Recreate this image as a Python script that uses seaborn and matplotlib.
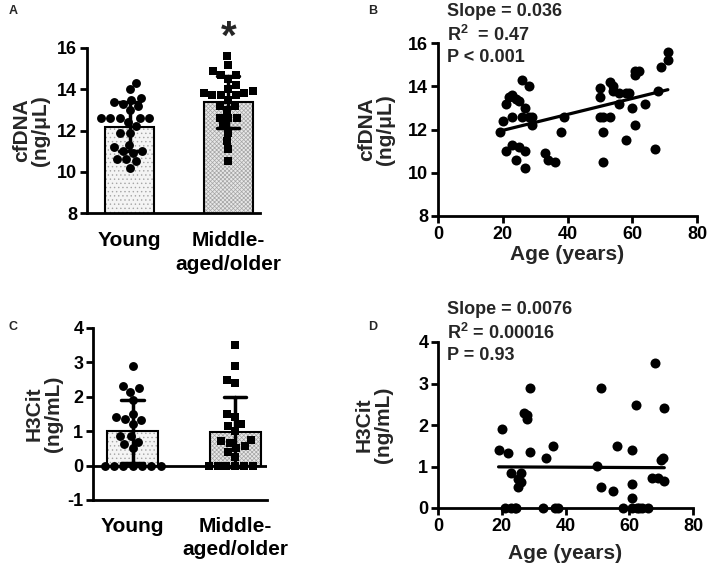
import numpy as np
import pandas as pd
import matplotlib
matplotlib.use("Agg")
import matplotlib.pyplot as plt
from matplotlib.patches import Rectangle
import seaborn as sns

# ---------------- data ----------------
groups = ["Young", "Middle-\naged/older"]

# cfDNA (ng/uL) vs age
cf_age_young = [19, 20, 21, 21, 22, 23, 23, 23, 24, 25, 24, 25, 26, 26, 27, 27, 27, 28, 28, 29, 29, 33, 34, 36, 38, 39]
cf_val_young = [11.9, 12.4, 13.2, 11.0, 13.5, 13.6, 12.6, 11.3, 13.4, 13.3, 10.6, 11.2, 14.3, 12.6, 13.0, 11.0,
                10.2, 14.0, 12.6, 12.6, 12.2, 10.9, 10.6, 10.5, 11.9, 12.6]
cf_age_old = [50, 50, 50, 51, 51, 51, 53, 53, 54, 54, 56, 56, 58, 58, 59, 60, 61, 61, 61, 62, 64, 67, 68, 69, 71, 71]
cf_val_old = [13.9, 13.5, 12.6, 12.6, 11.9, 10.5, 12.6, 14.2, 14.0, 13.8, 13.7, 13.2, 11.5, 13.7, 13.7, 13.0,
              12.2, 14.5, 14.7, 14.7, 13.2, 11.1, 13.8, 14.9, 15.2, 15.6]

# H3Cit (ng/mL) vs age
h3_age_young = [19, 20, 22, 23, 26, 26, 25, 25, 27, 28, 28, 29, 29, 34, 36, 21, 23, 24, 24.5, 33, 36.7, 37.7]
h3_val_young = [1.4, 1.9, 1.33, 0.85, 0.85, 0.63, 0.7, 0.5, 2.3, 2.25, 2.15, 2.9, 1.35, 1.2, 1.5, 0, 0, 0, 0, 0, 0, 0]
h3_age_old = [50, 51, 51, 55, 56, 61, 61, 61, 62, 68, 67, 69, 71, 70, 70.7, 71, 58, 61, 62.4, 63, 64, 66]
h3_val_old = [1.02, 2.9, 0.5, 0.4, 1.5, 1.4, 0.57, 0.25, 2.48, 3.5, 0.73, 0.72, 0.66, 1.15, 1.2, 2.4, 0, 0, 0, 0, 0, 0]

stats_b = ["Slope = 0.036", r"R$^{\mathbf{2}}$  = 0.47", "P < 0.001"]
stats_d = ["Slope = 0.0076", r"R$^{\mathbf{2}}$ = 0.00016", "P = 0.93"]

# ---------------- style ----------------
sns.set_theme(style="ticks")
plt.rcParams["font.family"] = ["Liberation Sans", "DejaVu Sans"]
plt.rcParams["font.weight"] = "bold"
plt.rcParams["axes.unicode_minus"] = False
plt.rcParams["mathtext.fontset"] = "custom"
plt.rcParams["mathtext.rm"] = "Liberation Sans:bold"
plt.rcParams["mathtext.bf"] = "Liberation Sans:bold"
plt.rcParams["hatch.linewidth"] = 0.5

cf_df = pd.DataFrame({
    "group": [groups[0]] * len(cf_val_young) + [groups[1]] * len(cf_val_old),
    "val": cf_val_young + cf_val_old,
    "age": cf_age_young + cf_age_old,
})
h3_df = pd.DataFrame({
    "group": [groups[0]] * len(h3_val_young) + [groups[1]] * len(h3_val_old),
    "val": h3_val_young + h3_val_old,
    "age": h3_age_young + h3_age_old,
})

fig = plt.figure(figsize=(7.09, 5.66), dpi=100)
W, H = 709, 566


def axes_px(left, right, top, bottom):
    return fig.add_axes([left / W, 1 - bottom / H, (right - left) / W, (bottom - top) / H])


axA = axes_px(87, 260, 48, 213)
axB = axes_px(438, 697, 43, 216)
axC = axes_px(93, 267, 328, 500)
axD = axes_px(438, 693, 342, 508)

SPW = 2.0
TICKFS = 13
LABFS = 15


def style_axes(ax):
    sns.despine(ax=ax)
    for s in ("left", "bottom"):
        ax.spines[s].set_linewidth(SPW)
        ax.spines[s].set_color("black")
    ax.tick_params(axis="both", length=5, width=SPW, color="black",
                   labelsize=TICKFS, labelcolor="black", pad=2)
    for lab in ax.get_xticklabels() + ax.get_yticklabels():
        lab.set_fontweight("bold")
    ax.set_facecolor("none")


def bar_panel(ax, df, ylim, yticks, ylabel, label_x, xpad, baseline_line=False):
    sns.barplot(data=df, x="group", y="val", order=groups, hue="group", hue_order=groups,
                palette=["#f4f4f4", "#e8e8e8"], edgecolor="#a5a5a5", linewidth=0,
                width=0.5, errorbar="sd", capsize=0.22,
                err_kws={"color": "black", "linewidth": 2.5}, legend=False, ax=ax)
    hatches = ["....", "xxxxxxxx"]
    bars = [p for p in ax.patches if isinstance(p, Rectangle)]
    for p, h in zip(bars, hatches):
        p.set_hatch(h)
        ax.add_patch(Rectangle(p.get_xy(), p.get_width(), p.get_height(), fill=False,
                               ec="black", lw=1.5, zorder=p.get_zorder() + 0.1))
    d_y = df[df.group == groups[0]]
    d_o = df[df.group == groups[1]]
    sns.swarmplot(data=d_y, x="group", y="val", order=groups, color="black", marker="o",
                  size=6.4, ax=ax, clip_on=False, zorder=3)
    sns.swarmplot(data=d_o, x="group", y="val", order=groups, color="black", marker="s",
                  size=6.0, ax=ax, clip_on=False, zorder=3)
    for ln in ax.lines:
        ln.set_zorder(6)
    ax.set_ylim(*ylim)
    ax.set_yticks(yticks)
    ax.set_xlabel("")
    ax.set_ylabel(ylabel, fontsize=LABFS, fontweight="bold", linespacing=1.0)
    ax.yaxis.set_label_coords(label_x, 0.5)
    if baseline_line:
        ax.axhline(0, color="black", lw=SPW, zorder=2.6)
    style_axes(ax)
    ax.tick_params(axis="x", length=0, labelsize=LABFS, pad=xpad)
    for lab in ax.get_xticklabels():
        lab.set_fontweight("bold")
        lab.set_linespacing(1.3)


def reg_panel(ax, df, xlim, ylim, yticks, ylabel, label_x, stats, stats_top, xlabpad):
    sns.regplot(data=df, x="age", y="val", ci=None, ax=ax,
                scatter_kws={"s": 52, "color": "black", "alpha": 1, "clip_on": False,
                             "zorder": 3, "linewidths": 0},
                line_kws={"color": "black", "lw": 2.3})
    ax.set_xlim(*xlim)
    ax.set_ylim(*ylim)
    ax.set_xticks([0, 20, 40, 60, 80])
    ax.set_yticks(yticks)
    ax.set_xlabel("Age (years)", fontsize=LABFS, fontweight="bold", labelpad=xlabpad)
    ax.set_ylabel(ylabel, fontsize=LABFS, fontweight="bold", linespacing=1.0)
    ax.yaxis.set_label_coords(label_x, 0.5)
    style_axes(ax)
    for i, s in enumerate(stats):
        fig.text(447 / W, 1 - (stats_top + 22.5 * i) / H, s, fontsize=13, fontweight="bold",
                 ha="left", va="center")


# Panel A
bar_panel(axA, cf_df, (8, 16), [8, 10, 12, 14, 16], "cfDNA\n(ng/μL)", -0.215, 13)
axA.set_xlim(-0.43, 1.32)
axA.annotate("*", xy=(1, 16), xycoords="data", xytext=(0, -6), textcoords="offset points",
             ha="center", va="bottom", fontsize=29, fontweight="bold", annotation_clip=False)

# Panel B
reg_panel(axB, cf_df, (0, 80), (8, 16), [8, 10, 12, 14, 16], "cfDNA\n(ng/μL)", -0.166,
          stats_b, 12, 2)

# Panel C
bar_panel(axC, h3_df, (-1, 4), [-1, 0, 1, 2, 3, 4], "H3Cit\n(ng/mL)", -0.172, 12, baseline_line=True)
axC.set_xlim(-0.385, 1.31)

# Panel D
reg_panel(axD, h3_df, (0, 80), (0, 4), [0, 1, 2, 3, 4], "H3Cit\n(ng/mL)", -0.176,
          stats_d, 310, 7)

# panel letters
for letter, x, y in [("A", 13, 11), ("B", 373, 11), ("C", 13, 327), ("D", 373, 327)]:
    fig.text(x / W, 1 - y / H, letter, fontsize=9, fontweight="bold", ha="center", va="center")

fig.savefig("out.png", dpi=100)
